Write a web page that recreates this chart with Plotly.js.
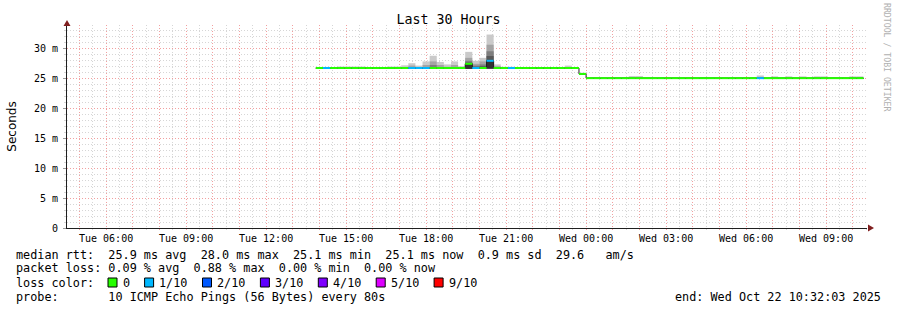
<!DOCTYPE html>
<html>
<head>
<meta charset="utf-8">
<script src="https://cdn.plot.ly/plotly-3.0.1.min.js"></script>
<style>
html,body{margin:0;padding:0;background:#fff;}
#chart{width:897px;height:310px;}
</style>
</head>
<body>
<div id="chart"></div>
<script>
// ---------------- DATA ----------------
// 16-minute consolidated bins, first bin starts Tue 2025-10-21 13:52
const binStart = '2025-10-21T13:52:00Z';
const binMinutes = 16;

// median RTT per bin (ms)
const median = [
  26.8,26.8,26.8,26.8,26.8,26.8,26.8,26.8,26.8,26.8,
  26.8,26.8,26.8,26.8,26.8,26.8,26.8,26.8,26.8,26.8,
  26.8,27.5,26.8,26.8,28.0,26.8,26.8,26.8,26.8,26.8,
  26.8,26.8,26.8,26.8,26.8,26.8,26.8,25.8,25.1,25.1,
  25.1,25.1,25.1,25.1,25.1,25.1,25.1,25.1,25.1,25.1,
  25.1,25.1,25.1,25.1,25.1,25.1,25.1,25.1,25.1,25.1,
  25.1,25.1,25.1,25.1,25.1,25.1,25.1,25.1,25.1,25.1,
  25.1,25.1,25.1,25.1,25.1,25.1,25.1
];

// loss colour class per bin (index into lossLabels / lossColors)
const lossClass = [
  0,1,0,0,0,0,0,0,0,0,
  0,0,0,1,1,1,0,0,0,0,
  0,0,1,0,1,0,0,1,0,0,
  0,0,0,0,0,0,0,0,0,0,
  0,0,0,0,0,0,0,0,0,0,
  0,0,0,0,0,0,0,0,0,0,
  0,0,1,0,0,0,0,0,0,0,
  0,0,0,0,0,0,0
];

// smoke: lowest ping per bin (ms)
const smokeLow = [
  26.7,26.7,26.7,26.7,26.7,26.7,26.7,26.7,26.7,26.7,
  26.7,26.7,26.7,26.7,26.7,26.7,26.7,26.7,26.7,26.7,
  26.7,26.65,26.7,26.7,26.7,26.7,26.7,26.7,26.7,26.7,
  26.7,26.7,26.7,26.7,26.7,26.7,26.7,25.7,25.0,25.0,
  25.0,25.0,25.0,25.0,25.0,25.0,25.0,25.0,25.0,25.0,
  25.0,25.0,25.0,25.0,25.0,25.0,25.0,25.0,25.0,25.0,
  25.0,25.0,25.0,25.0,25.0,25.0,25.0,25.0,25.0,25.0,
  25.0,25.0,25.0,25.0,25.0,25.0,25.0
];

// smoke band tops (outermost = highest ping ... innermost)
const smokeTop1 = [
  26.9,26.9,26.9,27.05,27.05,27.05,27.05,26.95,26.95,26.95,
  27.05,27.05,27.25,27.6,27.2,27.9,28.85,27.8,27.4,27.9,
  27.1,29.5,28.0,28.5,32.4,27.4,27.0,27.0,26.95,26.95,
  26.95,26.95,26.95,26.95,26.95,27.2,26.95,26.0,25.25,25.25,
  25.25,25.25,25.25,25.25,25.45,25.45,25.25,25.25,25.25,25.25,
  25.25,25.25,25.25,25.25,25.25,25.25,25.25,25.25,25.25,25.25,
  25.25,25.25,25.55,25.25,25.4,25.25,25.4,25.25,25.4,25.25,
  25.4,25.4,25.25,25.25,25.25,25.4,25.4
];
const smokeTop2 = [
  26.88,26.88,26.88,26.88,26.88,26.88,26.88,26.88,26.88,26.88,
  26.88,26.88,26.95,27.2,26.95,27.3,27.9,27.3,27.0,27.3,
  26.9,28.5,27.5,27.9,30.7,27.1,26.88,26.88,26.88,26.88,
  26.88,26.88,26.88,26.88,26.88,26.9,26.88,25.9,25.18,25.18,
  25.18,25.18,25.18,25.18,25.18,25.18,25.18,25.18,25.18,25.18,
  25.18,25.18,25.18,25.18,25.18,25.18,25.18,25.18,25.18,25.18,
  25.18,25.18,25.3,25.18,25.18,25.18,25.18,25.18,25.18,25.18,
  25.18,25.18,25.18,25.18,25.18,25.18,25.18
];
const smokeTop3 = [
  26.85,26.85,26.85,26.85,26.85,26.85,26.85,26.85,26.85,26.85,
  26.85,26.85,26.85,26.85,26.85,26.85,27.3,26.85,26.85,26.85,
  26.85,28.0,27.2,27.4,29.6,26.85,26.85,26.85,26.85,26.85,
  26.85,26.85,26.85,26.85,26.85,26.85,26.85,25.85,25.15,25.15,
  25.15,25.15,25.15,25.15,25.15,25.15,25.15,25.15,25.15,25.15,
  25.15,25.15,25.15,25.15,25.15,25.15,25.15,25.15,25.15,25.15,
  25.15,25.15,25.15,25.15,25.15,25.15,25.15,25.15,25.15,25.15,
  25.15,25.15,25.15,25.15,25.15,25.15,25.15
];
const smokeTop4 = [
  26.83,26.83,26.83,26.83,26.83,26.83,26.83,26.83,26.83,26.83,
  26.83,26.83,26.83,26.83,26.83,26.83,26.83,26.83,26.83,26.83,
  26.83,27.7,27.0,27.1,28.8,26.83,26.83,26.83,26.83,26.83,
  26.83,26.83,26.83,26.83,26.83,26.83,26.83,25.83,25.13,25.13,
  25.13,25.13,25.13,25.13,25.13,25.13,25.13,25.13,25.13,25.13,
  25.13,25.13,25.13,25.13,25.13,25.13,25.13,25.13,25.13,25.13,
  25.13,25.13,25.13,25.13,25.13,25.13,25.13,25.13,25.13,25.13,
  25.13,25.13,25.13,25.13,25.13,25.13,25.13
];
const smokeTop5 = [
  26.82,26.82,26.82,26.82,26.82,26.82,26.82,26.82,26.82,26.82,
  26.82,26.82,26.82,26.82,26.82,26.82,26.82,26.82,26.82,26.82,
  26.82,27.6,26.9,26.95,28.1,26.82,26.82,26.82,26.82,26.82,
  26.82,26.82,26.82,26.82,26.82,26.82,26.82,25.82,25.12,25.12,
  25.12,25.12,25.12,25.12,25.12,25.12,25.12,25.12,25.12,25.12,
  25.12,25.12,25.12,25.12,25.12,25.12,25.12,25.12,25.12,25.12,
  25.12,25.12,25.12,25.12,25.12,25.12,25.12,25.12,25.12,25.12,
  25.12,25.12,25.12,25.12,25.12,25.12,25.12
];

const lossLabels = ['0','1/10','2/10','3/10','4/10','5/10','9/10'];
const lossColors = ['#26ff00','#00b8ff','#0059ff','#5e00ff','#7e00ff','#dd00ff','#ff0000'];
const smokeColors = ['#cacaca','#a4a4a4','#7e7e7e','#585858','#323232'];

const xRange = ['2025-10-21T04:32:03Z','2025-10-22T10:32:03Z'];
const tickTimes = ['2025-10-21T06:00:00Z','2025-10-21T09:00:00Z','2025-10-21T12:00:00Z','2025-10-21T15:00:00Z',
  '2025-10-21T18:00:00Z','2025-10-21T21:00:00Z','2025-10-22T00:00:00Z','2025-10-22T03:00:00Z',
  '2025-10-22T06:00:00Z','2025-10-22T09:00:00Z'];
const tickLabels = ['Tue 06:00','Tue 09:00','Tue 12:00','Tue 15:00','Tue 18:00','Tue 21:00',
  'Wed 00:00','Wed 03:00','Wed 06:00','Wed 09:00'];
const yTickVals = [0,5,10,15,20,25,30];
const yTickText = ['0','5 m','10 m','15 m','20 m','25 m','30 m'];

const statLines = [
  'median rtt:  25.9 ms avg  28.0 ms max  25.1 ms min  25.1 ms now  0.9 ms sd  29.6   am/s',
  'packet loss: 0.09 % avg  0.88 % max  0.00 % min  0.00 % now',
  'loss color:',
  'probe:       10 ICMP Echo Pings (56 Bytes) every 80s'
];
const endText = 'end: Wed Oct 22 10:32:03 2025';
const titleText = 'Last 30 Hours';
const yTitle = 'Seconds';
const watermark = 'RRDTOOL / TOBI OETIKER';

// ---------------- DRAW ----------------
const W = 897, H = 310;
const M = {l:67, r:30, t:25, b:82};
const PW = W - M.l - M.r, PH = H - M.t - M.b;
const px = x => (x - M.l) / PW;
const py = y => (H - M.b - y) / PH;

const BIN = binMinutes * 60000;
const T0 = Date.parse(binStart);
const n = median.length;
const starts = median.map((_, i) => T0 + i * BIN);
const centers = starts.map(s => s + BIN / 2);

const traces = [];
[smokeTop1, smokeTop2, smokeTop3, smokeTop4, smokeTop5].forEach((top, k) => {
  traces.push({
    type: 'bar', x: centers, width: BIN, base: smokeLow,
    y: top.map((v, i) => v - smokeLow[i]),
    marker: {color: smokeColors[k], line: {width: 0}},
    hoverinfo: 'skip', showlegend: false
  });
});
traces.push({
  type: 'scatter', mode: 'lines',
  x: starts.concat([starts[n - 1] + BIN]),
  y: median.concat([median[n - 1]]),
  line: {shape: 'hv', color: '#202020', width: 1},
  hoverinfo: 'skip', showlegend: false
});
lossColors.forEach((c, k) => {
  const xs = [], ys = [];
  median.forEach((m, i) => {
    if (lossClass[i] === k) { xs.push(starts[i], starts[i] + BIN, null); ys.push(m, m, null); }
  });
  if (xs.length) traces.push({
    type: 'scatter', mode: 'lines', x: xs, y: ys, connectgaps: false,
    line: {color: c, width: 2}, hoverinfo: 'skip', showlegend: false
  });
});

// hourly grid ticks with labels every 3 hours
const tickMs = tickTimes.map(t => Date.parse(t));
const hourVals = [], hourText = [];
for (let t = Date.parse('2025-10-21T05:00:00Z'); t <= Date.parse('2025-10-22T10:00:00Z'); t += 3600000) {
  hourVals.push(t);
  const j = tickMs.indexOf(t);
  hourText.push(j >= 0 ? tickLabels[j] : '');
}

const GRID = '#d6d6d6';
const MGRID = '#f2a0a0';
const MONO = 'DejaVu Sans Mono';
const nb = s => s.replace(/ /g, '\u00a0');

const annotations = [];
const shapes = [];
const lineY = [254.7, 268.2, 282.6, 296.6];
statLines.forEach((s, i) => annotations.push({
  xref: 'paper', yref: 'paper', x: px(16), y: py(lineY[i]), xanchor: 'left', yanchor: 'middle',
  text: nb(s), showarrow: false, borderpad: 0, borderwidth: 0,
  font: {family: MONO, size: 11.8, color: '#000'}
}));
annotations.push({
  xref: 'paper', yref: 'paper', x: px(881), y: py(lineY[3]), xanchor: 'right', yanchor: 'middle',
  text: nb(endText), showarrow: false, borderpad: 0, borderwidth: 0,
  font: {family: MONO, size: 11.8, color: '#000'}
});
let bx = 108;
lossLabels.forEach((lab, k) => {
  shapes.push({type: 'rect', xref: 'paper', yref: 'paper',
    x0: px(bx), x1: px(bx + 9), y0: py(287), y1: py(278),
    fillcolor: lossColors[k], line: {color: '#000', width: 1}});
  const lx = bx + 14.5;
  annotations.push({
    xref: 'paper', yref: 'paper', x: px(lx), y: py(lineY[2]), xanchor: 'left', yanchor: 'middle',
    text: nb(lab), showarrow: false, borderpad: 0, borderwidth: 0,
    font: {family: MONO, size: 11.8, color: '#000'}
  });
  bx = lx + lab.length * 7.1 + 15;
});
annotations.push({
  xref: 'paper', yref: 'paper', x: px(887), y: py(58), xanchor: 'center', yanchor: 'middle',
  text: nb(watermark), textangle: 90, showarrow: false, borderpad: 0, borderwidth: 0,
  font: {family: MONO, size: 8.2, color: '#b0b0b0'}
});
// axis arrows
shapes.push({type: 'path', xref: 'paper', yref: 'paper', fillcolor: '#801f1f', line: {width: 0},
  path: `M ${px(63.5)} ${py(26)} L ${px(70.5)} ${py(26)} L ${px(67)} ${py(20)} Z`});
shapes.push({type: 'path', xref: 'paper', yref: 'paper', fillcolor: '#801f1f', line: {width: 0},
  path: `M ${px(868)} ${py(224.5)} L ${px(868)} ${py(231.5)} L ${px(874)} ${py(228)} Z`});

const layout = {
  width: W, height: H,
  margin: {l: M.l, r: M.r, t: M.t, b: M.b, pad: 0},
  paper_bgcolor: '#ffffff', plot_bgcolor: '#ffffff',
  font: {family: MONO, size: 10, color: '#000'},
  showlegend: false, barmode: 'overlay', hovermode: false,
  title: {text: titleText, font: {family: MONO, size: 13.3, color: '#000'},
    xref: 'container', yref: 'container', x: 0.5, xanchor: 'center', y: 1 - 19.5 / H, yanchor: 'middle'},
  xaxis: {
    type: 'date', range: xRange.map(d => Date.parse(d)),
    tickmode: 'array', tickvals: hourVals, ticktext: hourText,
    showgrid: true, gridcolor: MGRID, griddash: '1px,2px', gridwidth: 1,
    ticks: 'outside', ticklen: 1, tickcolor: MGRID, tickwidth: 1,
    showline: true, linecolor: '#1f1f1f', linewidth: 1, zeroline: false,
    tickfont: {family: MONO, size: 10, color: '#000'},
    minor: {dtick: 1800000, tick0: Date.parse('2025-10-21T00:00:00Z'), showgrid: true,
      gridcolor: GRID, griddash: '1px,2px', gridwidth: 1, ticks: 'outside', ticklen: 1, tickcolor: GRID},
    fixedrange: true
  },
  yaxis: {
    range: [0, 34], tickmode: 'array', tickvals: yTickVals, ticktext: yTickText,
    showgrid: true, gridcolor: MGRID, griddash: '1px,2px', gridwidth: 1,
    ticks: 'outside', ticklen: 3, tickcolor: '#999', tickwidth: 1, ticklabelstandoff: 3,
    showline: true, linecolor: '#1f1f1f', linewidth: 1, zeroline: false,
    tickfont: {family: MONO, size: 10, color: '#000'},
    minor: {dtick: 1, tick0: 0, showgrid: true, gridcolor: GRID, griddash: '1px,2px', gridwidth: 1,
      ticks: 'outside', ticklen: 2, tickcolor: GRID},
    title: {text: yTitle, font: {family: 'DejaVu Sans', size: 12, color: '#000'}, standoff: 14},
    fixedrange: true
  },
  annotations: annotations,
  shapes: shapes
};

Plotly.newPlot('chart', traces, layout, {staticPlot: true, displayModeBar: false});
</script>
</body>
</html>
